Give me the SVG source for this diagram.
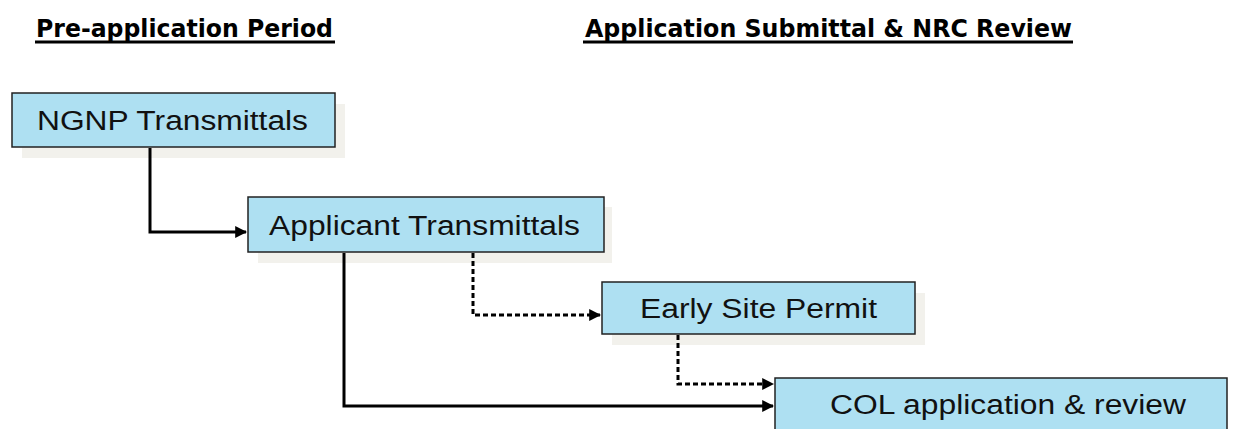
<svg xmlns="http://www.w3.org/2000/svg" width="1238" height="429" viewBox="0 0 1238 429">
<style>
.box{fill:#aee0f2;stroke:#222;stroke-width:1.5}
.shadow{fill:#f2f1ec}
.lbl{font-family:"Liberation Sans",Arial,sans-serif;font-size:27px;fill:#111}
.head{font-family:"DejaVu Sans",Verdana,sans-serif;font-weight:bold;font-size:25px;fill:#000}
.ul{stroke:#000;stroke-width:3}
.conn{fill:none;stroke:#000;stroke-width:3}
.dash{stroke-dasharray:5 3}
</style>
<defs>
<marker id="arr" viewBox="0 0 10 10" refX="9" refY="5" markerWidth="4" markerHeight="4" orient="auto" markerUnits="strokeWidth">
<path d="M0,0 L10,5 L0,10 z" fill="#000"/>
</marker>
</defs>
<g id="headings">
<text class="head" x="36" y="37" textLength="297" lengthAdjust="spacingAndGlyphs">Pre-application Period</text>
<line class="ul" x1="35" y1="42" x2="335" y2="42"/>
<text class="head" x="585" y="37" textLength="487" lengthAdjust="spacingAndGlyphs">Application Submittal &amp; NRC Review</text>
<line class="ul" x1="583" y1="42" x2="1073" y2="42"/>
</g>
<g id="node-ngnp">
<rect class="shadow" x="22" y="104" width="323" height="54"/>
<rect class="box" x="12" y="93" width="323" height="54"/>
<text class="lbl" x="37" y="130" textLength="271" lengthAdjust="spacingAndGlyphs">NGNP Transmittals</text>
</g>
<g id="node-applicant">
<rect class="shadow" x="258" y="207" width="354" height="56"/>
<rect class="box" x="248" y="197" width="356" height="55"/>
<text class="lbl" x="269" y="235" textLength="311" lengthAdjust="spacingAndGlyphs">Applicant Transmittals</text>
</g>
<g id="node-esp">
<rect class="shadow" x="612" y="293" width="313" height="52"/>
<rect class="box" x="602" y="282" width="313" height="52"/>
<text class="lbl" x="640" y="318" textLength="237" lengthAdjust="spacingAndGlyphs">Early Site Permit</text>
</g>
<g id="node-col">
<rect class="box" x="775" y="378" width="452" height="52"/>
<text class="lbl" x="830" y="414" textLength="356" lengthAdjust="spacingAndGlyphs">COL application &amp; review</text>
</g>
<g id="connectors">
<path class="conn" d="M150,148 V232 H246" marker-end="url(#arr)"/>
<path class="conn" d="M344,253 V406 H773" marker-end="url(#arr)"/>
<path class="conn dash" d="M473,253 V315 H600" marker-end="url(#arr)"/>
<path class="conn dash" d="M678,335 V384 H773" marker-end="url(#arr)"/>
</g>
</svg>
